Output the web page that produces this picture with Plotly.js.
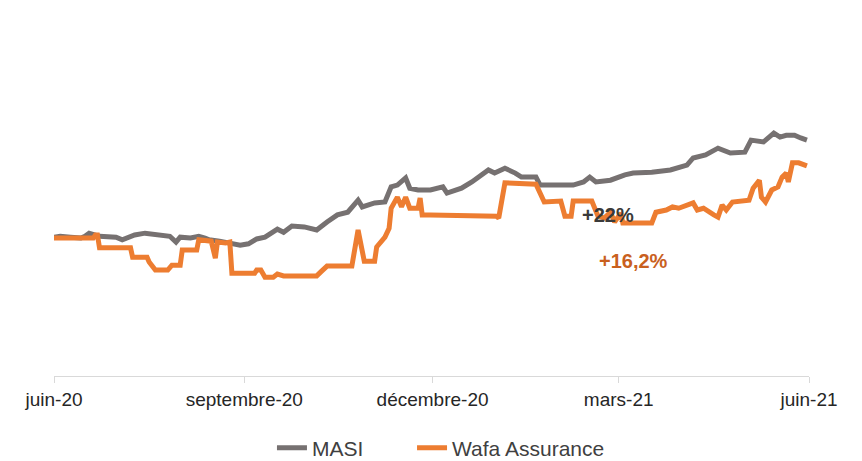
<!DOCTYPE html>
<html>
<head>
<meta charset="utf-8">
<script src="https://cdn.plot.ly/plotly-3.0.1.min.js"></script>
<style>html,body{margin:0;padding:0;background:#fff;}#chart{width:862px;height:461px;}</style>
</head>
<body>
<div id="chart"></div>
<script>
// MASI (base 100)
const masiDates = ["2020-06-01","2020-06-04","2020-06-09","2020-06-14","2020-06-16","2020-06-18","2020-06-23","2020-06-28","2020-07-01","2020-07-04","2020-07-06","2020-07-10","2020-07-15","2020-07-20","2020-07-25","2020-07-27","2020-07-30","2020-08-01","2020-08-06","2020-08-10","2020-08-13","2020-08-15","2020-08-20","2020-08-25","2020-08-30","2020-09-03","2020-09-07","2020-09-11","2020-09-15","2020-09-17","2020-09-20","2020-09-24","2020-09-30","2020-10-06","2020-10-11","2020-10-16","2020-10-21","2020-10-26","2020-10-28","2020-11-03","2020-11-08","2020-11-11","2020-11-14","2020-11-18","2020-11-20","2020-11-24","2020-11-30","2020-12-06","2020-12-08","2020-12-15","2020-12-20","2020-12-28","2020-12-31","2021-01-05","2021-01-10","2021-01-13","2021-01-20","2021-01-22","2021-01-30","2021-02-07","2021-02-12","2021-02-15","2021-02-18","2021-02-25","2021-03-04","2021-03-08","2021-03-17","2021-03-26","2021-04-03","2021-04-06","2021-04-12","2021-04-15","2021-04-18","2021-04-24","2021-05-01","2021-05-04","2021-05-10","2021-05-15","2021-05-18","2021-05-21","2021-05-25","2021-05-28","2021-05-31"];
const masiValues = [100.2,100.4,100.2,100.0,100.4,101.1,100.4,100.2,100.2,99.6,100.0,100.7,101.1,100.9,100.7,100.4,99.1,100.2,100.0,100.4,100.0,99.6,99.3,98.9,98.4,98.7,99.8,100.2,101.6,102.0,101.3,102.7,102.5,101.8,103.6,105.2,105.8,108.5,107.0,107.9,108.1,111.5,111.9,113.5,111.2,110.8,110.8,111.5,110.1,111.2,112.6,115.3,114.6,115.7,114.6,113.7,113.7,111.9,111.9,111.9,112.6,113.7,112.6,113.0,114.2,114.6,114.8,115.3,116.4,118.0,118.7,119.6,120.2,119.1,119.3,122.0,121.6,123.6,122.7,123.1,123.1,122.5,122.0];

// Wafa Assurance (base 100)
const wafaDates = ["2020-06-01","2020-06-20","2020-06-21","2020-06-22","2020-06-23","2020-07-08","2020-07-09","2020-07-16","2020-07-17","2020-07-20","2020-07-26","2020-07-28","2020-08-01","2020-08-02","2020-08-09","2020-08-10","2020-08-16","2020-08-18","2020-08-19","2020-08-23","2020-08-25","2020-08-26","2020-09-06","2020-09-07","2020-09-09","2020-09-11","2020-09-15","2020-09-17","2020-09-20","2020-10-06","2020-10-08","2020-10-11","2020-10-23","2020-10-26","2020-10-29","2020-11-03","2020-11-04","2020-11-08","2020-11-10","2020-11-11","2020-11-14","2020-11-16","2020-11-18","2020-11-20","2020-11-24","2020-11-25","2020-11-26","2020-11-30","2021-01-01","2021-01-02","2021-01-05","2021-01-20","2021-01-24","2021-02-01","2021-02-03","2021-02-06","2021-02-07","2021-02-16","2021-02-19","2021-02-22","2021-02-25","2021-02-27","2021-03-02","2021-03-03","2021-03-17","2021-03-19","2021-03-24","2021-03-27","2021-03-30","2021-04-06","2021-04-08","2021-04-11","2021-04-16","2021-04-18","2021-04-20","2021-04-22","2021-04-25","2021-05-03","2021-05-05","2021-05-08","2021-05-09","2021-05-11","2021-05-14","2021-05-17","2021-05-19","2021-05-21","2021-05-22","2021-05-24","2021-05-27","2021-05-31"];
const wafaValues = [100.0,100.0,100.7,100.7,97.8,97.8,95.7,95.7,94.6,92.8,92.8,93.9,93.9,97.3,97.3,99.6,99.3,95.5,99.1,98.9,99.1,92.1,92.1,92.8,92.8,91.2,91.2,91.9,91.5,91.5,92.4,93.7,93.7,101.8,94.8,94.8,98.0,100.2,102.2,106.7,109.2,107.0,109.2,106.7,106.7,109.0,105.2,105.2,104.9,104.5,112.4,112.1,108.1,108.3,104.9,104.9,108.3,108.3,104.9,104.5,105.8,103.6,105.6,103.4,103.4,105.8,106.3,107.0,106.7,107.9,106.3,106.7,105.2,104.7,107.4,106.3,108.1,108.5,111.2,113.0,109.2,108.1,110.8,111.5,113.7,114.6,112.6,116.9,116.9,116.2];

const tickDates = ["2020-06-01","2020-09-01","2020-12-01","2021-03-01","2021-06-01"];
const tickLabels = ["juin-20","septembre-20","décembre-20","mars-21","juin-21"];

const seriesNames = ["MASI","Wafa Assurance"];
const perfLabels = ["+22%","+16,2%"];

const sans = '"Liberation Sans", Arial, sans-serif';
const legendFont = {family: sans, size: 21, color: '#404040'};

const traces = [
  {x: masiDates, y: masiValues, name: seriesNames[0], type: 'scatter', mode: 'lines',
   line: {color: '#767171', width: 5}, legend: 'legend'},
  {x: wafaDates, y: wafaValues, name: seriesNames[1], type: 'scatter', mode: 'lines',
   line: {color: '#ED7D31', width: 5}, legend: 'legend2'}
];

const layout = {
  width: 862, height: 461,
  margin: {l: 54, r: 53, t: 20, b: 85},
  paper_bgcolor: '#ffffff', plot_bgcolor: '#ffffff',
  showlegend: true,
  legend: {orientation: 'h', x: 0.3155, xanchor: 'left', xref: 'container',
           y: 0.028, yanchor: 'middle', yref: 'container', font: legendFont},
  legend2: {orientation: 'h', x: 0.478, xanchor: 'left', xref: 'container',
           y: 0.028, yanchor: 'middle', yref: 'container', font: legendFont},
  xaxis: {type: 'date', range: ['2020-06-01', '2021-06-01'],
          tickmode: 'array', tickvals: tickDates, ticktext: tickLabels,
          showgrid: false, zeroline: false, automargin: false,
          showline: true, linecolor: '#D9D9D9', linewidth: 1,
          ticks: 'outside', ticklen: 6, tickcolor: '#D9D9D9', tickwidth: 1,
          tickfont: {family: sans, size: 19, color: '#262626'},
          fixedrange: true},
  yaxis: {range: [69, 149], visible: false, showgrid: false, zeroline: false, fixedrange: true},
  annotations: [
    {x: '2021-02-24', y: 105.2, xref: 'x', yref: 'y', text: '<b>' + perfLabels[0] + '</b>', showarrow: false,
     font: {family: sans, size: 20, color: '#3A3A3A'}},
    {x: '2021-03-08', y: 94.8, xref: 'x', yref: 'y', text: '<b>' + perfLabels[1] + '</b>', showarrow: false,
     font: {family: sans, size: 20, color: '#C9601E'}}
  ]
};

Plotly.newPlot('chart', traces, layout, {displayModeBar: false, staticPlot: true});
</script>
</body>
</html>
